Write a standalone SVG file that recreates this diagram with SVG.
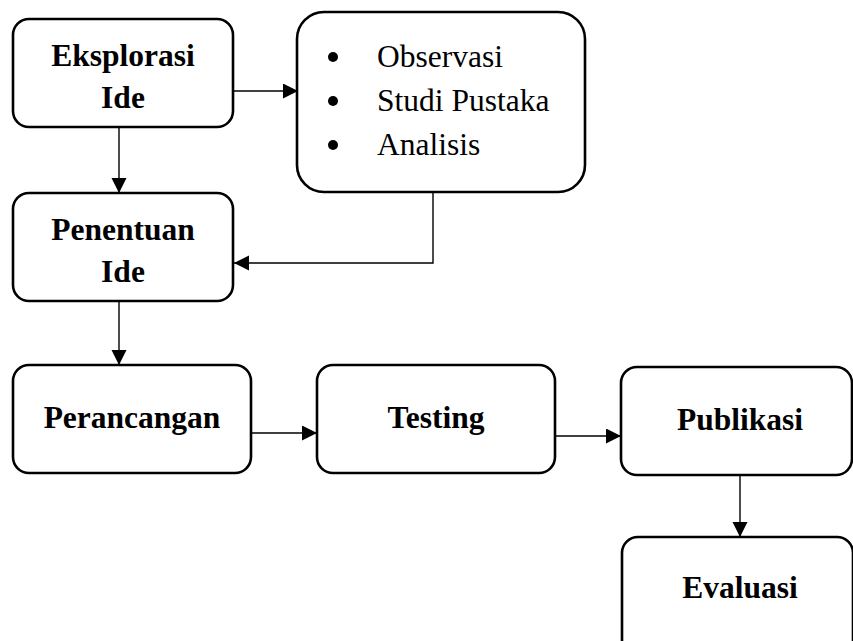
<svg xmlns="http://www.w3.org/2000/svg" width="853" height="641" viewBox="0 0 853 641">
<style>
.box{fill:#fff;stroke:#000;stroke-width:2.6}
.lbl{font-family:"Liberation Serif","Times New Roman",serif;font-weight:bold;font-size:31.5px;fill:#000;text-anchor:middle}
.item{font-family:"Liberation Serif","Times New Roman",serif;font-size:31.5px;fill:#000}
.edge{fill:none;stroke:#000;stroke-width:1.4;marker-end:url(#arr)}
</style>
<defs>
<marker id="arr" markerUnits="userSpaceOnUse" markerWidth="16" markerHeight="16" refX="15" refY="7.5" orient="auto">
<path d="M0,0 L15,7.5 L0,15 z" fill="#000"/>
</marker>
</defs>
<rect width="853" height="641" fill="#fff"/>
<g id="edges">
<path class="edge" d="M233,91 H298"/>
<path class="edge" d="M119,127 V193"/>
<path class="edge" d="M433,192 V263 H234"/>
<path class="edge" d="M119,301 V365"/>
<path class="edge" d="M251,433 H317"/>
<path class="edge" d="M555,436 H621"/>
<path class="edge" d="M740,475 V537"/>
</g>
<g id="eksplorasi">
<rect class="box" x="13" y="19" width="220" height="108" rx="16"/>
<text class="lbl" x="123" y="66">Eksplorasi</text>
<text class="lbl" x="123" y="108">Ide</text>
</g>
<g id="kegiatan">
<rect class="box" x="297" y="12" width="288" height="180" rx="27"/>
<circle cx="333" cy="57" r="5"/>
<circle cx="333" cy="101" r="5"/>
<circle cx="333" cy="145" r="5"/>
<text class="item" x="377" y="67">Observasi</text>
<text class="item" x="377" y="111">Studi Pustaka</text>
<text class="item" x="377" y="155">Analisis</text>
</g>
<g id="penentuan">
<rect class="box" x="13" y="193" width="220" height="108" rx="16"/>
<text class="lbl" x="123" y="240">Penentuan</text>
<text class="lbl" x="123" y="282">Ide</text>
</g>
<g id="perancangan">
<rect class="box" x="13" y="365" width="238" height="108" rx="16"/>
<text class="lbl" x="132" y="428">Perancangan</text>
</g>
<g id="testing">
<rect class="box" x="317" y="365" width="238" height="108" rx="16"/>
<text class="lbl" x="436" y="428">Testing</text>
</g>
<g id="publikasi">
<rect class="box" x="621" y="367" width="231" height="108" rx="16"/>
<text class="lbl" x="740" y="430">Publikasi</text>
</g>
<g id="evaluasi">
<rect class="box" x="622" y="537" width="231" height="120" rx="16"/>
<text class="lbl" x="740" y="598">Evaluasi</text>
</g>
</svg>
